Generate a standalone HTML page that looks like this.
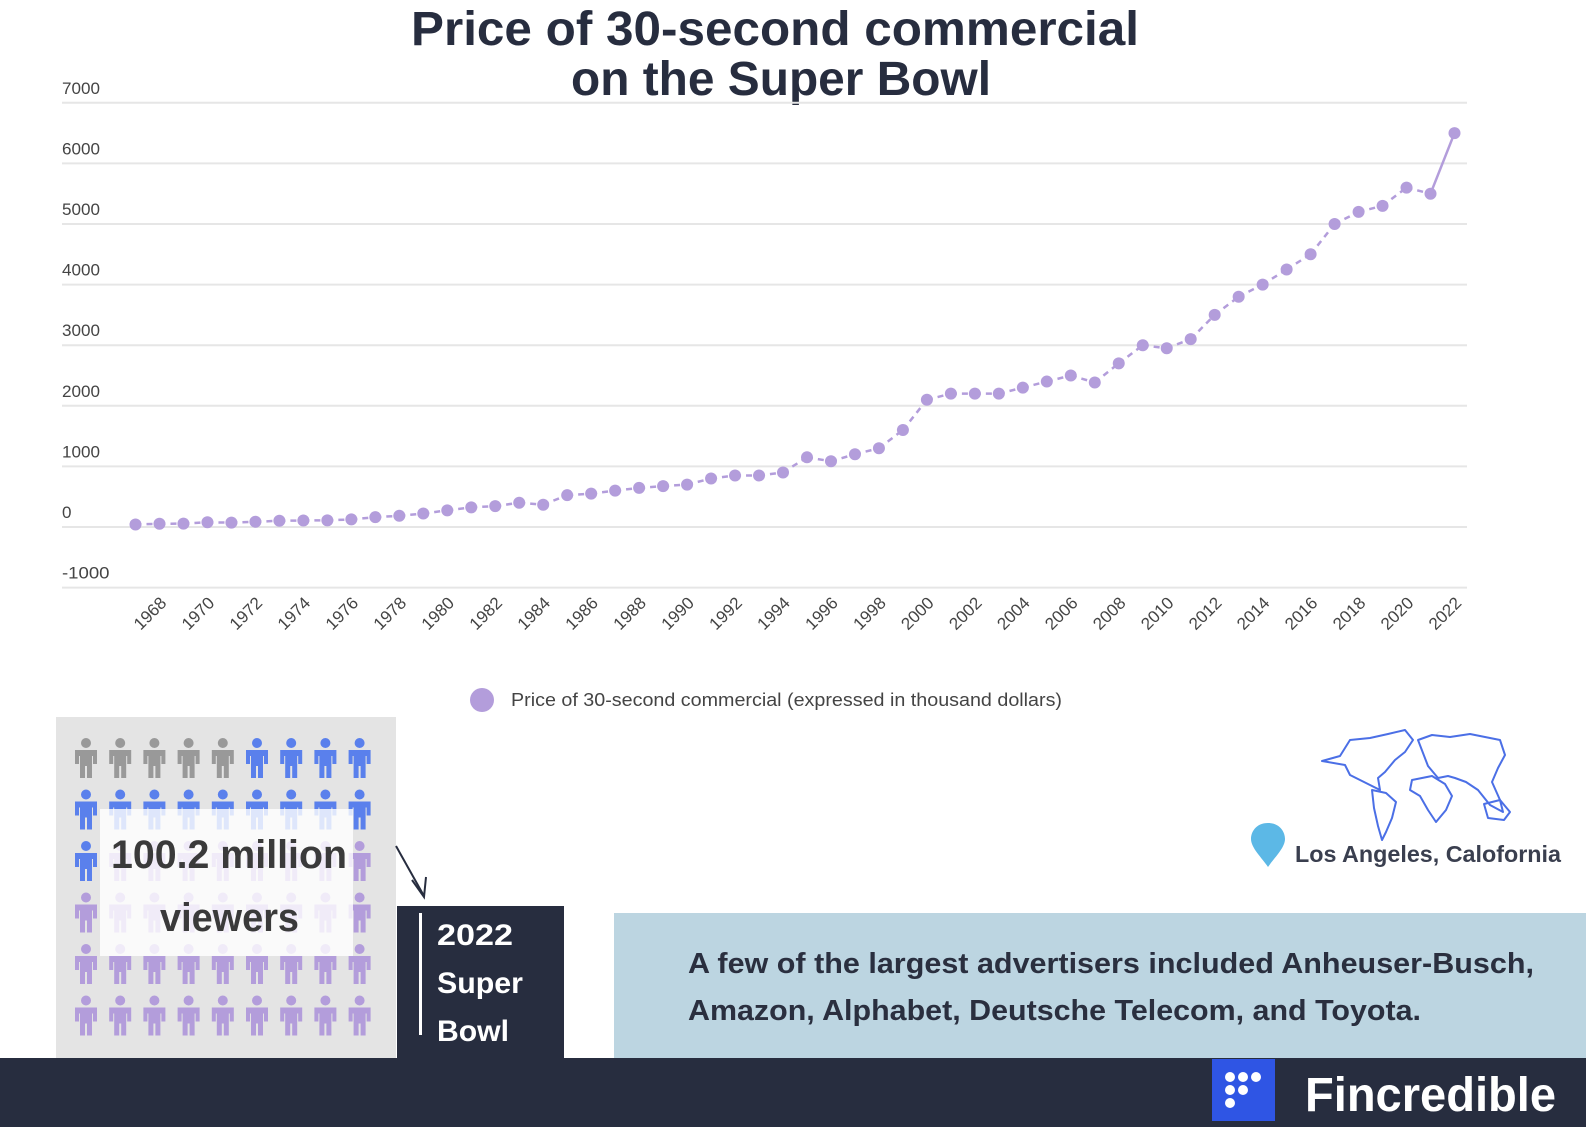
<!DOCTYPE html>
<html><head><meta charset="utf-8"><style>
html,body{margin:0;padding:0;background:#fff;}
body{width:1586px;height:1127px;position:relative;overflow:hidden;font-family:"Liberation Sans",sans-serif;}
.abs{position:absolute;}
</style></head><body>
<svg class="abs" style="left:0;top:0" width="1586" height="1127">
  <g id="title" font-family="Liberation Sans, sans-serif" font-weight="bold" font-size="48" fill="#272d3f">
    <text x="411" y="45" textLength="728" lengthAdjust="spacingAndGlyphs">Price of 30-second commercial</text>
    <text x="571" y="95" textLength="420" lengthAdjust="spacingAndGlyphs">on the Super Bowl</text>
  </g>
  <g id="grid"></g>
  <g id="ylabels" font-family="Liberation Sans, sans-serif" font-size="17" fill="#444"></g>
  <g id="xlabels" font-family="Liberation Sans, sans-serif" font-size="17" fill="#444"></g>
  <g id="series"></g>
  <g>
    <circle cx="482" cy="700" r="12" fill="#b39ddb"/>
    <text x="511" y="706" textLength="551" lengthAdjust="spacingAndGlyphs" font-family="Liberation Sans, sans-serif" font-size="18" fill="#444">Price of 30-second commercial (expressed in thousand dollars)</text>
  </g>

  <rect x="56" y="717" width="340" height="341" fill="#e4e4e4"/>
  <g id="people"></g>
  <rect x="100" y="809" width="253" height="147" fill="#fff" opacity="0.8"/>
  <text x="111" y="868" textLength="236" lengthAdjust="spacingAndGlyphs" font-family="Liberation Sans, sans-serif" font-weight="bold" font-size="40" fill="#3a3a3a">100.2 million</text>
  <text x="160" y="931" textLength="139" lengthAdjust="spacingAndGlyphs" font-family="Liberation Sans, sans-serif" font-weight="bold" font-size="40" fill="#3a3a3a">viewers</text>
  <g stroke="#272d3f" stroke-width="2" fill="none">
    <line x1="396" y1="846" x2="424" y2="896"/>
    <polyline points="412,880 424,897 426,877"/>
  </g>
  <rect x="397" y="906" width="167" height="152" fill="#272d3f"/>
  <rect x="419" y="913" width="3" height="122" fill="#fff"/>
  <g font-family="Liberation Sans, sans-serif" font-weight="bold" font-size="30" fill="#fff">
    <text x="437" y="945" textLength="76" lengthAdjust="spacingAndGlyphs">2022</text><text x="437" y="993" textLength="86" lengthAdjust="spacingAndGlyphs">Super</text><text x="437" y="1041" textLength="72" lengthAdjust="spacingAndGlyphs">Bowl</text>
  </g>
  <rect x="614" y="913" width="972" height="145" fill="#bcd5e1"/>
  <g font-family="Liberation Sans, sans-serif" font-size="29" fill="#2a2f3f" font-weight="bold">
    <text x="688" y="973" textLength="846" lengthAdjust="spacingAndGlyphs">A few of the largest advertisers included Anheuser-Busch,</text>
    <text x="688" y="1020" textLength="733" lengthAdjust="spacingAndGlyphs">Amazon, Alphabet, Deutsche Telecom, and Toyota.</text>
  </g>

  <g fill="none" stroke="#4b6fe6" stroke-width="2" stroke-linejoin="round">
    <path d="M1322,761 L1340,756 L1350,740 L1370,738 L1388,734 L1405,730 L1413,740 L1405,752 L1395,760 L1385,772 L1378,778 L1380,790 L1372,786 L1364,782 L1350,775 L1345,765 Z"/>
    <path d="M1372,790 L1386,793 L1396,802 L1392,818 L1386,832 L1382,840 L1378,826 L1374,808 Z"/>
    <path d="M1418,740 L1432,735 L1450,737 L1470,734 L1500,740 L1505,755 L1498,768 L1492,782 L1500,800 L1503,812 L1490,805 L1478,790 L1466,782 L1455,778 L1448,776 L1438,778 L1428,766 Z"/>
    <path d="M1412,780 L1432,776 L1445,784 L1452,796 L1446,810 L1436,822 L1428,810 L1420,796 L1410,790 Z"/>
    <path d="M1484,804 L1500,800 L1510,812 L1504,820 L1488,818 Z"/>
  </g>
  <path d="M1268,823 C1256,823 1251,832 1251,839 C1251,848 1262,858 1268,867 C1274,858 1285,848 1285,839 C1285,832 1280,823 1268,823 Z" fill="#5cb8e6"/>
  <text x="1295" y="862" font-family="Liberation Sans, sans-serif" font-weight="bold" font-size="23" fill="#3a3f4f" textLength="266" lengthAdjust="spacingAndGlyphs">Los Angeles, Calofornia</text>

  <rect x="0" y="1058" width="1586" height="69" fill="#272d3f"/>
  <rect x="1212" y="1059" width="63" height="62" fill="#2f55e4"/>
  <g fill="#fff">
    <circle cx="1230" cy="1077" r="5"/><circle cx="1243" cy="1077" r="5"/><circle cx="1256" cy="1077" r="5"/>
    <circle cx="1230" cy="1090" r="5"/><circle cx="1243" cy="1090" r="5"/><circle cx="1230" cy="1103" r="5"/>
  </g>
  <text x="1305" y="1111" font-family="Liberation Sans, sans-serif" font-weight="bold" font-size="48" fill="#fff" textLength="251" lengthAdjust="spacingAndGlyphs">Fincredible</text>
</svg>
<script>
const years = [];
for (let y = 1967; y <= 2022; y++) years.push(y);
const prices = [42,54,55,78,72,86,103,107,110,125,162,185,222,275,324,345,400,368,525,550,600,645,675,700,800,850,850,900,1150,1085,1200,1300,1600,2100,2200,2200,2200,2300,2400,2500,2385,2700,3000,2950,3100,3500,3800,4000,4250,4500,5000,5200,5300,5600,5500,6500];
const yTicks = [7000,6000,5000,4000,3000,2000,1000,0,-1000];
const xTickYears = [1968,1970,1972,1974,1976,1978,1980,1982,1984,1986,1988,1990,1992,1994,1996,1998,2000,2002,2004,2006,2008,2010,2012,2014,2016,2018,2020,2022];

const NS = 'http://www.w3.org/2000/svg';
const x = yr => 135.5 + (yr - 1967) * (1454.5 - 135.5) / 55;
const y = v => 527 - v * 0.0606;
function mk(tag, attrs, parent) {
  const e = document.createElementNS(NS, tag);
  for (const k in attrs) e.setAttribute(k, attrs[k]);
  parent.appendChild(e);
  return e;
}
const grid = document.getElementById('grid'), yl = document.getElementById('ylabels'),
      xl = document.getElementById('xlabels'), ser = document.getElementById('series');
yTicks.forEach(t => {
  const l = mk('line', {x1: 62, x2: 1467, y1: y(t), y2: y(t), stroke: '#e6e6e6', 'stroke-width': 2}, grid);
  
  
  const tx = mk('text', {x: 62, y: y(t) - 9, textLength: String(t).length * 9.5, lengthAdjust: 'spacingAndGlyphs'}, yl);
  tx.textContent = t;
  
  
});
xTickYears.forEach(yr => {
  const tx = mk('text', {x: 0, y: 0, 'text-anchor': 'end', textLength: 38, lengthAdjust: 'spacingAndGlyphs', transform: `translate(${x(yr) + 8},${604}) rotate(-45)`}, xl);
  tx.textContent = yr;
  
  
});
for (let i = 0; i < prices.length - 1; i++) {
  const last = i === prices.length - 2;
  const l = mk('line', {x1: x(years[i]), y1: y(prices[i]), x2: x(years[i+1]), y2: y(prices[i+1]), stroke: '#b39ddb', 'stroke-width': 2.5, 'stroke-dasharray': last ? 'none' : '6,5'}, ser);
  
  
}
prices.forEach((p, i) => {
  const c = mk('circle', {cx: x(years[i]), cy: y(p), r: 6, fill: '#b39ddb'}, ser);
  
  
});
const people = document.getElementById('people');
const rowColors = [
  ['#999','#999','#999','#999','#999','#5a80ec','#5a80ec','#5a80ec','#5a80ec'],
  Array(9).fill('#5a80ec'),
  ['#5a80ec'].concat(Array(8).fill('#b39ddb')),
  Array(9).fill('#b39ddb'), Array(9).fill('#b39ddb'), Array(9).fill('#b39ddb')
];
rowColors.forEach((row, r) => row.forEach((col, c) => {
  const cx = 86 + c * 34.2, top = 738 + r * 51.5;
  const g = mk('g', {fill: col}, people);
  
  
  mk('circle', {cx: cx, cy: top + 5, r: 5}, g);
  mk('path', {d: `M${cx-11},${top+12} h22 v14 h-4 v-8 h-1 v22 h-5 v-12 h-2 v12 h-5 v-22 h-1 v8 h-4 z`}, g);
}));
</script>
</body></html>
